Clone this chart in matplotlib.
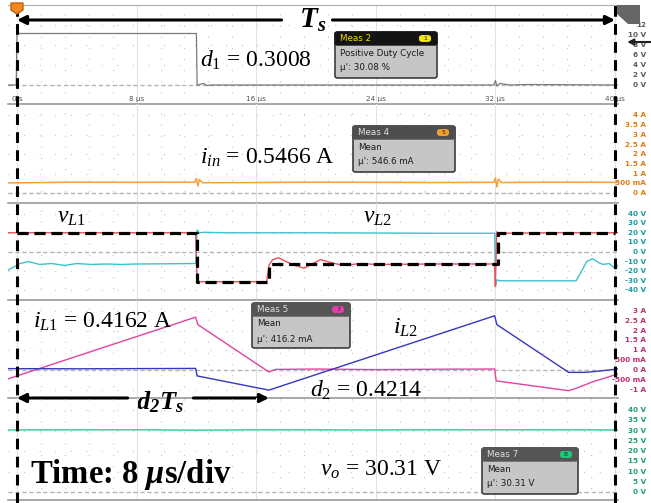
import matplotlib
matplotlib.use("Agg")
import matplotlib.pyplot as plt
from matplotlib.patches import FancyBboxPatch, Polygon
from matplotlib.lines import Line2D
from matplotlib.transforms import blended_transform_factory

plt.rcParams['mathtext.fontset'] = 'custom'
plt.rcParams['mathtext.rm'] = 'Liberation Serif'
plt.rcParams['mathtext.it'] = 'Liberation Serif:italic'
plt.rcParams['mathtext.bf'] = 'Liberation Serif:bold'
plt.rcParams['mathtext.bfit'] = 'Liberation Serif:italic:bold'

# ---- measured values ----
Ts = 40.0          # us
d1 = 0.3008
d2 = 0.4214

# gate signal (V)
t_gate = [-0.6, -0.05, 0.0, 12.0, 12.05, 12.5, 12.7, 13.0, 31.9, 32.0, 32.1, 32.3, 33.0, 34.0, 40.2]
v_gate = [0.0, 0.0, 10.3, 10.3, 0.0, 0.3, -0.1, 0.0, 0.0, 0.9, -0.2, 0.3, 0.0, 0.1, 0.0]

# input current (A)
t_iin = [-0.6, 4, 8, 11.9, 12.0, 12.1, 12.2, 12.4, 16, 20, 24, 28, 31.9, 32.0, 32.1, 32.2, 32.4, 36, 40.2]
v_iin = [0.52, 0.56, 0.55, 0.56, 0.76, 0.36, 0.70, 0.53, 0.54, 0.56, 0.55, 0.54, 0.55, 0.78, 0.32, 0.72, 0.54, 0.56, 0.55]

# inductor voltages (V)
t_vl1 = [-0.6, 11.95, 12.05, 16.7, 16.85, 17.1, 17.5, 18.0, 18.6, 19.2, 19.8, 20.3, 21.0, 21.8, 23.0, 24.0, 28.0, 31.95,
         32.0, 32.08, 32.2, 36.0, 40.2]
v_vl1 = [20, 20, -31, -31, -14, -8, -6, -10, -14, -17, -12, -8, -11, -14, -12, -13, -12.5, -12.5,
         -36, 21, 19.5, 20, 20]
t_vl2 = [-0.6, 0.2, 0.8, 1.5, 2.3, 3.2, 4.0, 5.0, 6.0, 7.0, 8.0, 10.0, 11.95, 12.05, 12.2, 12.5, 14, 20, 28, 31.95,
         32.0, 32.1, 32.3, 37.4, 37.8, 38.1, 38.5, 38.9, 39.2, 39.6, 40.0, 40.2]
v_vl2 = [-19, -12, -10, -13, -12, -14, -12, -13, -12.5, -13, -12.5, -12.3, -12, 23, 20, 20.5, 20, 20, 19.5, 19.5,
         -36, -29, -30, -30, -19, -10, -7, -11, -13, -12, -17, -14]
t_vl_ideal = [0, d1 * Ts, d1 * Ts, d2 * Ts, d2 * Ts, 32.2, 32.2, Ts]
v_vl_ideal = [20, 20, -31, -31, -13, -13, 20, 20]

# inductor currents (A)
t_il1 = [-0.6, 11.95, 12.1, 16.85, 17.3, 20, 24, 28, 31.95, 32.05, 36.9, 37.5, 38.5, 40.2]
v_il1 = [-0.45, 2.68, 2.3, -0.1, 0.03, 0.05, 0.02, 0.04, 0.05, -0.55, -1.05, -0.9, -0.6, -0.2]
t_il2 = [-0.6, 4, 8, 11.95, 12.05, 16.85, 31.95, 32.1, 36.9, 38.0, 39.0, 40.2]
v_il2 = [0.07, 0.06, 0.07, 0.08, -0.3, -1.02, 2.75, 2.3, -0.12, -0.12, -0.05, 0.05]

# output voltage (V)
t_vo = [-0.6, 8, 12, 16, 24, 32, 40.2]
v_vo = [30.3, 30.4, 30.2, 30.35, 30.3, 30.4, 30.3]

time_ticks = [0, 8, 16, 24, 32, 40]
time_labels = ['0 s', '8 µs', '16 µs', '24 µs', '32 µs', '40 µs']

scale1 = [12, 10, 8, 6, 4, 2, 0]
scale1_lab = ['12', '10 V', '8 V', '6 V', '4 V', '2 V', '0 V']
scale2 = [4, 3.5, 3, 2.5, 2, 1.5, 1, 0.5, 0]
scale2_lab = ['4 A', '3.5 A', '3 A', '2.5 A', '2 A', '1.5 A', '1 A', '500 mA', '0 A']
scale3 = [40, 30, 20, 10, 0, -10, -20, -30, -40]
scale3_lab = ['40 V', '30 V', '20 V', '10 V', '0 V', '-10 V', '-20 V', '-30 V', '-40 V']
scale4 = [3, 2.5, 2, 1.5, 1, 0.5, 0, -0.5, -1]
scale4_lab = ['3 A', '2.5 A', '2 A', '1.5 A', '1 A', '500 mA', '0 A', '-500 mA', '-1 A']
scale5 = [40, 35, 30, 25, 20, 15, 10, 5, 0]
scale5_lab = ['40 V', '35 V', '30 V', '25 V', '20 V', '15 V', '10 V', '5 V', '0 V']

W, H = 651, 503


def fx(x):
    return x / W


def fy(y):
    return 1 - y / H


fig = plt.figure(figsize=(W / 100, H / 100), dpi=100)
fig.patch.set_facecolor('white')

# panel layout in pixels: top, bottom, ylim, scale, labels, colour
panels = [
    (5, 104, (-3.8, 16.0), scale1, scale1_lab, '#5a5a5a'),
    (104, 203, (-0.515, 4.59), scale2, scale2_lab, '#e07a10'),
    (203, 300, (-50, 51), scale3, scale3_lab, '#1c9c9c'),
    (300, 398, (-1.42, 3.55), scale4, scale4_lab, '#c02c70'),
    (398, 500, (-3.9, 45.9), scale5, scale5_lab, '#1e9e6e'),
]
L, R = 8, 618
axes = []
for top, bot, ylim, sc, lab, col in panels:
    ax = fig.add_axes([fx(L), fy(bot), (R - L) / W, (bot - top) / H])
    ax.set_xlim(-0.6, 40.2)
    ax.set_ylim(*ylim)
    ax.set_xticks([])
    ax.set_yticks([])
    for s in ['left', 'right', 'top']:
        ax.spines[s].set_visible(False)
    ax.spines['bottom'].set_color('#9a9a9a')
    ax.spines['bottom'].set_linewidth(1.2)
    ax.patch.set_alpha(0)
    # grid
    for g in range(0, 41, 8):
        ax.axvline(g, color='#e2e2e2', lw=0.8, zorder=0)
    k = 0
    while k * 1.6 <= 40.2:
        if k % 5:
            ax.axvline(k * 1.6, color='#c4c4c4', lw=0.8, ls=(0, (1, 9)), zorder=0)
        k += 1
    for v in sc[::2]:
        ax.axhline(v, color='#c4c4c4', lw=0.8, ls=(0, (1, 13)), zorder=0)
    ax.axhline(0, color='#b4b4b4', lw=1.0, ls=(0, (3, 2)), zorder=1)
    for v, t in zip(sc, lab):
        ax.text(1.046, v, t, transform=blended_transform_factory(ax.transAxes, ax.transData),
                ha='right', va='center', fontsize=5.2, color=col, fontweight='bold', clip_on=False)
    axes.append(ax)

ax1, ax2, ax3, ax4, ax5 = axes
ax1.spines['top'].set_visible(True)
ax1.spines['top'].set_color('#b0b0b0')

# traces
ax1.plot(t_gate, v_gate, color='#7a7a7a', lw=0.9, zorder=3)
ax2.plot(t_iin, v_iin, color='#f5a040', lw=1.1, zorder=3)
ax3.plot(t_vl2, v_vl2, color='#3cc4cc', lw=1.0, zorder=3)
ax3.plot(t_vl1, v_vl1, color='#e8505c', lw=1.0, zorder=3)
ax3.plot(t_vl_ideal, v_vl_ideal, color='black', lw=2.3, ls=(0, (3.5, 1.8)), zorder=4)
ax4.plot(t_il1, v_il1, color='#e0449c', lw=1.0, zorder=3)
ax4.plot(t_il2, v_il2, color='#3636c0', lw=1.0, zorder=3)
ax5.plot(t_vo, v_vo, color='#3ccf9f', lw=1.1, zorder=3)

# time labels
for t, lab in zip(time_ticks, time_labels):
    ax1.text(t, -2.8, lab, ha='center', va='center', fontsize=5.2, color='#555555')

# full-height dashed markers at 0 and Ts
bt = blended_transform_factory(ax1.transData, fig.transFigure)
for xv in [0, Ts]:
    fig.add_artist(Line2D([xv, xv], [0, 1], transform=bt, color='black', lw=2.2,
                          ls=(0, (3.5, 2.4)), zorder=10))

arrow = dict(arrowstyle='-|>', color='black', lw=2.2, mutation_scale=13, shrinkA=0, shrinkB=0)

# Ts arrow
ya = 13.0
ax1.annotate('', xy=(0, ya), xytext=(17.7, ya), arrowprops=arrow, annotation_clip=False)
ax1.annotate('', xy=(Ts, ya), xytext=(21.1, ya), arrowprops=arrow, annotation_clip=False)
ax1.text(19.8, ya, r'$\mathbfit{T_s}$', ha='center', va='center', fontsize=21)

# d2Ts arrow
yb = -1.42
ax4.annotate('', xy=(0, yb), xytext=(7.4, yb), arrowprops=arrow, annotation_clip=False)
ax4.annotate('', xy=(d2 * Ts, yb), xytext=(11.8, yb), arrowprops=arrow, annotation_clip=False)
ax4.text(9.6, yb - 0.2, r'$\mathbfit{d_2T_s}$', ha='center', va='center', fontsize=19, zorder=12)

serif = 'Liberation Serif'
fs = 17
fig.text(fx(200), fy(60), r'$d_1$ = 0.3008', fontsize=fs, va='center', family=serif)
fig.text(fx(200), fy(158), r'$i_{in}$ = 0.5466 A', fontsize=fs, va='center', family=serif)
fig.text(fx(57), fy(217), r'$v_{L1}$', fontsize=fs, va='center', family=serif)
fig.text(fx(363), fy(217), r'$v_{L2}$', fontsize=fs, va='center', family=serif)
fig.text(fx(33), fy(322), r'$i_{L1}$ = 0.4162 A', fontsize=fs, va='center', family=serif)
fig.text(fx(393), fy(328), r'$i_{L2}$', fontsize=fs, va='center', family=serif)
fig.text(fx(310), fy(390), r'$d_2$ = 0.4214', fontsize=fs, va='center', family=serif)
fig.text(fx(320), fy(470), r'$v_o$ = 30.31 V', fontsize=fs, va='center', family=serif)
fig.text(fx(30), fy(474), r'Time: 8 $\mathbfit{\mu}$s/div', fontsize=23.5, va='center',
         family=serif, fontweight='bold')


def meas_box(x0, y0, x1, y1, title, badge, badge_col, head_col, title_col, lines):
    hy = y0 + 13
    fig.add_artist(FancyBboxPatch((fx(x0), fy(y1)), fx(x1) - fx(x0), fy(y0) - fy(y1),
                                  boxstyle='round,pad=0,rounding_size=0.004', transform=fig.transFigure,
                                  facecolor='#c6c6c6', edgecolor='#3c3c3c', lw=1.2, zorder=20))
    fig.add_artist(FancyBboxPatch((fx(x0), fy(hy)), fx(x1) - fx(x0), fy(y0) - fy(hy),
                                  boxstyle='round,pad=0,rounding_size=0.004', transform=fig.transFigure,
                                  facecolor=head_col, edgecolor=head_col, lw=1.0, zorder=21))
    fig.text(fx(x0 + 5), fy(y0 + 6.5), title, fontsize=6.3, color=title_col, va='center', zorder=22)
    fig.add_artist(FancyBboxPatch((fx(x1 - 18), fy(y0 + 10)), fx(12), fy(y0 + 3) - fy(y0 + 10),
                                  boxstyle='round,pad=0,rounding_size=0.005', transform=fig.transFigure,
                                  facecolor=badge_col, edgecolor='none', zorder=22))
    fig.text(fx(x1 - 12), fy(y0 + 6.5), badge, fontsize=4.5, color='#222222', ha='center', va='center', zorder=23)
    for i, s in enumerate(lines):
        fig.text(fx(x0 + 5), fy(hy + 8 + i * 15), s, fontsize=6.3, color='#1a1a1a', va='center', zorder=22)


meas_box(335, 32, 437, 78, 'Meas 2', '1', '#f2e218', '#141414', '#f0e000',
         ['Positive Duty Cycle', "µ': 30.08 %"])
meas_box(353, 126, 455, 172, 'Meas 4', '5', '#f0a030', '#4e4e4e', '#e0e0e0',
         ['Mean', "µ': 546.6 mA"])
meas_box(252, 303, 350, 348, 'Meas 5', '7', '#e040a8', '#555555', '#e0e0e0',
         ['Mean', "µ': 416.2 mA"])
meas_box(482, 448, 578, 494, 'Meas 7', '8', '#20c878', '#555555', '#e0e0e0',
         ['Mean', "µ': 30.31 V"])

# trigger marker and scope icons
fig.add_artist(Polygon([(fx(11), fy(3)), (fx(23), fy(3)), (fx(23), fy(10)), (fx(17), fy(14)), (fx(11), fy(10))],
                       closed=True, transform=fig.transFigure, facecolor='#f08a20', edgecolor='#c06010', zorder=11))
fig.add_artist(Polygon([(fx(617), fy(5)), (fx(640), fy(5)), (fx(640), fy(24)), (fx(628), fy(24)), (fx(617), fy(14))],
                       closed=True, transform=fig.transFigure, facecolor='#666666', edgecolor='none', zorder=11))
ax1.annotate('', xy=(1.015, 8.6), xytext=(1.065, 8.6), xycoords=('axes fraction', 'data'),
             arrowprops=dict(arrowstyle='-|>', color='#222222', lw=1.5, mutation_scale=9, shrinkA=0, shrinkB=0),
             annotation_clip=False)

fig.savefig('out.png', dpi=100)
